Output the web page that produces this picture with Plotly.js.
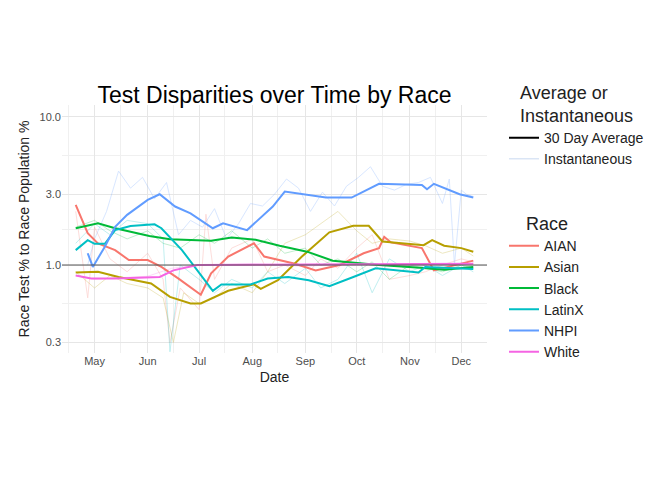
<!DOCTYPE html><html><head><script src="https://cdn.plot.ly/plotly-3.0.1.min.js"></script></head><body style="margin:0"><div id="c" style="width:672px;height:480px"></div><script>
const nhpiD=['2020-04-27','2020-04-30','2020-05-07','2020-05-13','2020-05-20','2020-06-01','2020-06-08','2020-06-17','2020-06-26','2020-07-09','2020-07-15','2020-07-29','2020-08-13','2020-08-20','2020-09-13','2020-09-28','2020-10-14','2020-11-08','2020-11-11','2020-11-15','2020-11-30','2020-12-08'];
const nhpiV=[1.2,0.97,1.33,1.81,2.18,2.75,3.0,2.48,2.23,1.77,1.91,1.72,2.48,3.13,2.85,2.85,3.53,3.47,3.24,3.53,3.0,2.85];
const blackD=['2020-04-20','2020-05-03','2020-05-13','2020-06-02','2020-06-14','2020-07-08','2020-07-20','2020-08-03','2020-08-17','2020-09-02','2020-09-17','2020-10-14','2020-11-07','2020-11-21','2020-12-08'];
const blackV=[1.77,1.91,1.77,1.57,1.49,1.46,1.53,1.48,1.35,1.23,1.07,1.0,0.96,0.93,0.97];
const latD=['2020-04-20','2020-04-27','2020-05-01','2020-05-07','2020-05-13','2020-05-22','2020-06-05','2020-06-09','2020-06-21','2020-07-01','2020-07-09','2020-07-14','2020-07-31','2020-08-10','2020-08-22','2020-09-03','2020-09-15','2020-09-29','2020-10-12','2020-11-06','2020-11-10','2020-12-08'];
const latV=[1.26,1.47,1.39,1.39,1.72,1.83,1.88,1.77,1.26,0.88,0.67,0.74,0.74,0.81,0.83,0.79,0.72,0.83,0.95,0.89,0.97,0.94];
const aianD=['2020-04-20','2020-04-27','2020-05-03','2020-05-13','2020-05-21','2020-06-01','2020-06-09','2020-06-19','2020-07-02','2020-07-08','2020-07-18','2020-08-02','2020-08-08','2020-08-26','2020-09-07','2020-09-21','2020-10-05','2020-10-14','2020-10-17','2020-10-21','2020-11-08','2020-11-12','2020-11-15','2020-12-08'];
const aianV=[2.54,1.64,1.4,1.26,1.08,1.08,0.97,0.81,0.63,0.88,1.14,1.4,1.14,1.02,0.92,1.0,1.2,1.3,1.55,1.42,1.3,1.08,0.92,1.07];
const asianD=['2020-04-20','2020-05-03','2020-05-15','2020-06-03','2020-06-14','2020-06-26','2020-07-02','2020-07-10','2020-07-18','2020-08-02','2020-08-06','2020-08-16','2020-08-30','2020-09-15','2020-09-29','2020-10-08','2020-10-16','2020-11-09','2020-11-14','2020-11-21','2020-12-01','2020-12-08'];
const asianV=[0.89,0.9,0.83,0.75,0.61,0.55,0.55,0.61,0.67,0.74,0.69,0.79,1.14,1.66,1.84,1.84,1.44,1.36,1.47,1.35,1.3,1.23];
const whiteD=['2020-04-20','2020-04-29','2020-05-13','2020-06-08','2020-06-16','2020-06-30','2020-12-08'];
const whiteV=[0.85,0.81,0.81,0.83,0.92,1.0,1.02];
// instantaneous
const nhpiID=['2020-04-27','2020-05-01','2020-05-08','2020-05-15','2020-05-22','2020-05-29','2020-06-05','2020-06-12','2020-06-19','2020-06-26','2020-07-03','2020-07-10','2020-07-17','2020-07-24','2020-07-31','2020-08-07','2020-08-14','2020-08-21','2020-08-28','2020-09-04','2020-09-11','2020-09-18','2020-09-25','2020-10-02','2020-10-09','2020-10-16','2020-10-23','2020-10-30','2020-11-06','2020-11-13','2020-11-20','2020-11-24','2020-11-27','2020-12-01','2020-12-04','2020-12-08'];
const nhpiIV=[1.0,1.5,2.3,4.3,3.3,3.9,2.8,3.6,1.6,2.0,1.8,2.4,1.5,1.9,2.6,2.5,3.0,3.8,3.3,2.3,3.1,2.5,3.4,3.9,4.6,3.4,3.2,3.5,3.6,3.9,2.6,3.8,1.0,3.2,3.0,2.9];
const blackID=['2020-04-20','2020-05-01','2020-05-10','2020-05-20','2020-06-01','2020-06-10','2020-06-20','2020-07-01','2020-07-10','2020-07-20','2020-08-01','2020-08-10','2020-08-20','2020-09-01','2020-09-10','2020-09-20','2020-10-01','2020-10-10','2020-10-20','2020-11-01','2020-11-10','2020-11-20','2020-12-01','2020-12-08'];
const blackIV=[1.8,2.0,1.7,1.5,1.7,1.4,1.3,1.6,1.4,1.7,1.3,1.5,1.2,1.3,1.0,1.1,0.9,1.05,0.8,1.0,0.95,0.9,1.0,0.95];
const latID=['2020-04-20','2020-05-01','2020-05-10','2020-05-20','2020-06-01','2020-06-10','2020-06-14','2020-06-20','2020-07-01','2020-07-10','2020-07-20','2020-08-01','2020-08-10','2020-08-20','2020-09-01','2020-09-10','2020-09-20','2020-10-01','2020-10-10','2020-10-20','2020-11-01','2020-11-10','2020-11-20','2020-12-01','2020-12-08'];
const latIV=[1.4,1.9,1.6,2.0,1.9,1.5,0.26,1.0,0.8,0.65,0.8,0.7,0.9,0.75,0.95,0.7,0.8,1.2,0.65,1.1,0.9,1.0,0.85,1.0,0.9];
const aianID=['2020-04-20','2020-04-27','2020-05-01','2020-05-10','2020-05-20','2020-06-01','2020-06-10','2020-06-14','2020-06-20','2020-07-01','2020-07-05','2020-07-10','2020-07-20','2020-08-01','2020-08-10','2020-08-20','2020-09-01','2020-09-10','2020-09-20','2020-10-01','2020-10-10','2020-10-20','2020-11-01','2020-11-10','2020-11-20','2020-12-01','2020-12-08'];
const aianIV=[2.3,0.6,1.8,1.1,0.9,1.2,0.8,0.3,0.7,0.5,2.2,0.8,1.3,1.5,0.9,1.0,0.85,1.1,0.95,1.3,1.6,0.8,0.85,0.9,1.0,1.1,1.05];
const asianID=['2020-04-20','2020-05-01','2020-05-10','2020-05-20','2020-06-01','2020-06-10','2020-06-16','2020-06-22','2020-07-01','2020-07-10','2020-07-20','2020-08-01','2020-08-10','2020-08-20','2020-09-01','2020-09-10','2020-09-20','2020-10-01','2020-10-10','2020-10-20','2020-11-01','2020-11-10','2020-11-20','2020-12-01','2020-12-08'];
const asianIV=[0.9,0.7,0.85,0.75,0.7,0.6,0.3,0.65,0.55,0.6,0.75,0.65,0.9,1.4,1.6,1.9,2.3,1.7,1.4,1.5,1.45,1.35,1.2,1.3,1.15];
const whiteID=['2020-04-20','2020-05-01','2020-05-15','2020-06-01','2020-06-15','2020-07-01','2020-08-01','2020-09-01','2020-10-01','2020-11-01','2020-12-08'];
const whiteIV=[0.85,0.8,0.82,0.84,0.95,1.0,1.02,0.98,1.03,0.99,1.02];
const races=['AIAN','Asian','Black','LatinX','NHPI','White'];
const colors=['#F8766D','#B79F00','#00BA38','#00BFC4','#619CFF','#F564E3'];
const avg=[[aianD,aianV],[asianD,asianV],[blackD,blackV],[latD,latV],[nhpiD,nhpiV],[whiteD,whiteV]];
const inst=[[aianID,aianIV],[asianID,asianIV],[blackID,blackIV],[latID,latIV],[nhpiID,nhpiIV],[whiteID,whiteIV]];
const traces=[];
inst.forEach((s,i)=>traces.push({x:s[0],y:s[1],mode:'lines',line:{color:colors[i],width:0.8},opacity:0.3,showlegend:false,hoverinfo:'skip'}));
avg.forEach((s,i)=>traces.push({x:s[0],y:s[1],mode:'lines',name:races[i],line:{color:colors[i],width:2},legend:'legend2'}));
traces.push({x:[null],y:[null],mode:'lines',name:'30 Day Average',line:{color:'black',width:2}});
traces.push({x:[null],y:[null],mode:'lines',name:'Instantaneous',line:{color:'#c8d8f0',width:1}});
const layout={width:672,height:480,margin:{l:62,r:185,t:105,b:127},paper_bgcolor:'white',plot_bgcolor:'white',
font:{family:'Liberation Sans, Arial',color:'#222'},
title:{text:'Test Disparities over Time by Race',xref:'paper',x:0.5,xanchor:'center',y:0.785,yanchor:'bottom',font:{size:23,color:'black'}},
xaxis:{type:'date',range:['2020-04-12','2020-12-16'],tickvals:['2020-05-01','2020-06-01','2020-07-01','2020-08-01','2020-09-01','2020-10-01','2020-11-01','2020-12-01'],ticktext:['May','Jun','Jul','Aug','Sep','Oct','Nov','Dec'],gridcolor:'#e6e6e6',zeroline:false,showline:false,ticks:'',tickfont:{size:11,color:'#4d4d4d'},
minor:{tickvals:['2020-04-16','2020-05-16','2020-06-16','2020-07-16','2020-08-16','2020-09-16','2020-10-16','2020-11-16'],showgrid:true,gridcolor:'#f0f0f0'},title:{text:'Date',font:{size:14,color:'#222'},standoff:6}},
yaxis:{type:'log',range:[Math.log10(0.255),Math.log10(12)],tickvals:[0.3,1,3,10],ticktext:['0.3','1.0','3.0','10.0'],gridcolor:'#e6e6e6',zeroline:false,ticks:'',tickfont:{size:11,color:'#4d4d4d'},
minor:{tickvals:[0.55,1.73,5.5],showgrid:true,gridcolor:'#f0f0f0'},title:{text:'Race Test % to Race Population %',font:{size:14,color:'#222'},standoff:6}},
shapes:[{type:'line',xref:'paper',x0:0,x1:1,yref:'y',y0:1,y1:1,line:{color:'#555',width:1}}],
legend:{x:1.04,y:1.12,xanchor:'left',yanchor:'top',title:{text:'Average or<br>Instantaneous',side:'top center',font:{size:18}},font:{size:14},tracegroupgap:0},
legend2:{x:1.04,y:0.59,xanchor:'left',yanchor:'top',title:{text:'Race',side:'top center',font:{size:18}},font:{size:14},itemheight:23}};
Plotly.newPlot('c',traces,layout,{displayModeBar:false});
</script></body></html>
